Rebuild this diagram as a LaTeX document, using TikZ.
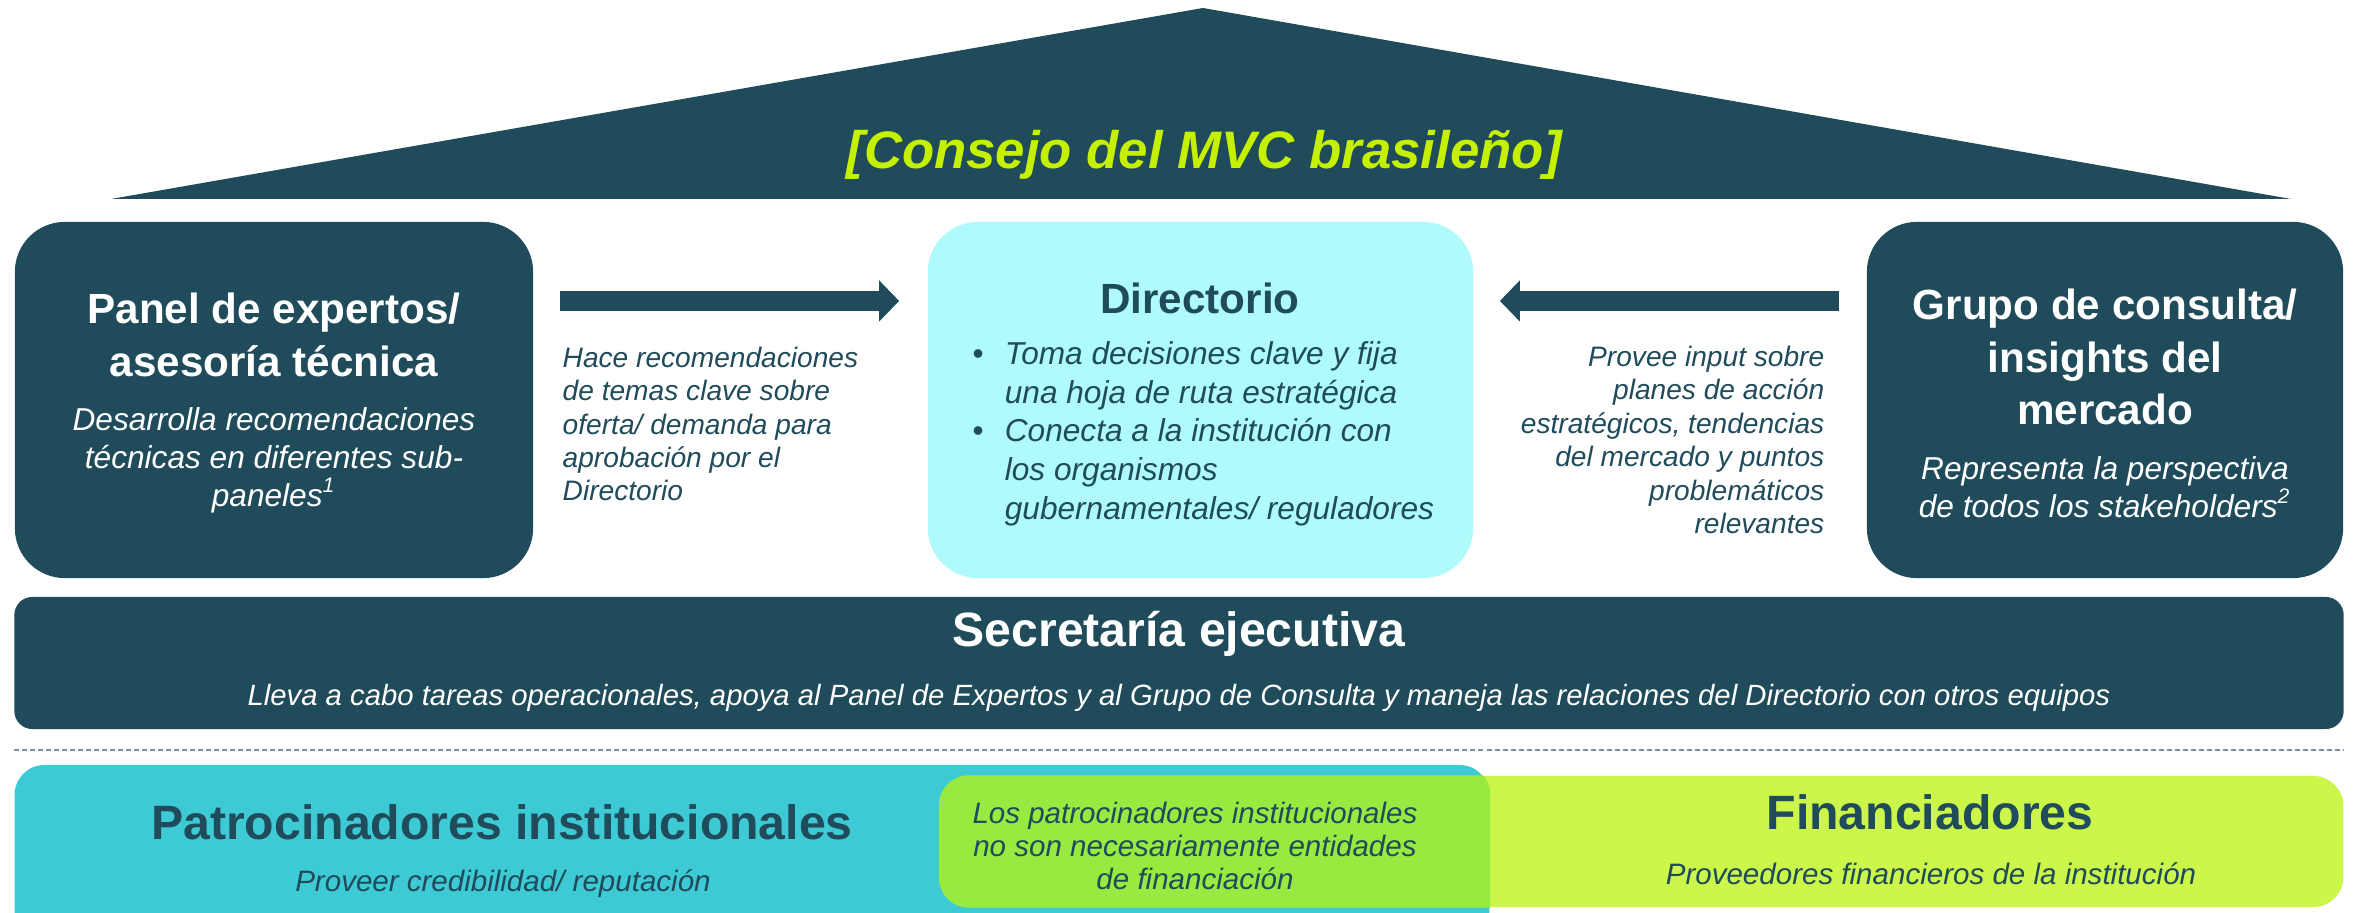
\documentclass[tikz,border=0pt]{standalone}
\usepackage{fontspec}
\setmainfont{Liberation Sans}
\usepackage{tikz}
\usetikzlibrary{arrows.meta}
\usepackage{xcolor}
\definecolor{mvcteal}{HTML}{1F4B5A}
\definecolor{mvcice}{HTML}{AFFAFB}
\definecolor{mvccyan}{HTML}{3DCAD4}
\definecolor{mvclime}{HTML}{CCF74A}
\definecolor{mvcgreen}{HTML}{98EA40}
\definecolor{mvctitle}{HTML}{C5F000}
\definecolor{mvcdots}{HTML}{7A929C}
\tikzset{%
	darkbox/.style={
		rounded corners=0.5cm,
		fill=mvcteal,
		minimum height=3.56cm
	},
	icebox/.style={
		rounded corners=0.5cm,
		fill=mvcice,
		minimum height=3.56cm
	},
	boxtitle/.style={
		font=\fontsize{12}{15}\selectfont\bfseries,
		align=center
	},
	boxnote/.style={
		font=\fontsize{9}{10.8}\selectfont\itshape,
		align=center
	},
	bandtitle/.style={
		font=\fontsize{13.7}{17}\selectfont\bfseries,
		align=center
	},
	bandnote/.style={
		font=\fontsize{8.4}{9.5}\selectfont\itshape,
		align=center
	},
	arrownote/.style={
		font=\fontsize{8}{9.5}\selectfont\itshape,
		text=mvcteal
	},
	fatarrow/.style={
		draw=mvcteal,
		line width=0.2cm,
		-{Triangle[width=0.4cm,length=0.2cm]}
	},
	sepline/.style={
		draw=mvcdots,
		line width=0.015cm,
		dash pattern=on 0.05cm off 0.03cm
	},
}
\begin{document}
\begin{tikzpicture}[
		x=0.01cm, y=-0.01cm,
		every node/.style={inner sep=0pt}
		]
	\clip (0,0) rectangle (2357,913);
	\fill[mvcteal] (111,199) -- (1203,8) -- (2291,199) -- cycle;
	\node[font=\fontsize{15}{18}\selectfont\bfseries\itshape, text=mvctitle] (council) at (1204,155) {[Consejo del MVC brasileño]};

	\node[darkbox, minimum width=5.18cm] (panel) at (274,400) {};
	\node[icebox, minimum width=5.45cm] (board) at (1200.5,400) {};
	\node[darkbox, minimum width=4.76cm] (grupo) at (2105,400) {};

	\node[boxtitle, text=white] (paneltitle) at (274,335) {Panel de expertos/\\asesoría técnica};
	\node[boxnote, text=white] (panelnote) at (274,460) {Desarrolla recomendaciones\\técnicas en diferentes sub-\\paneles\textsuperscript{1}};

	\node[boxtitle, text=mvcteal] (boardtitle) at (1200,298) {Directorio};
	\node[anchor=west, text=mvcteal, font=\fontsize{9}{11}\selectfont\itshape] (boardlist) at (972,434) {%
		\begin{tabular}{@{}l@{\hspace{0.21cm}}l@{}}
			\upshape\textbullet & Toma decisiones clave y fija\\
			& una hoja de ruta estratégica\\
			\upshape\textbullet & Conecta a la institución con\\
			& los organismos\\
			& gubernamentales/ reguladores
		\end{tabular}};

	\node[boxtitle, text=white] (grupotitle) at (2105,357) {Grupo de consulta/\\insights del\\mercado};
	\node[boxnote, text=white] (gruponote) at (2105,487) {Representa la perspectiva\\de todos los stakeholders\textsuperscript{2}};

	\draw[fatarrow, shorten <=0.26cm, shorten >=0.28cm] ([yshift=0.99cm]panel.east) -- ([yshift=0.99cm]board.west);
	\draw[fatarrow, shorten <=0.27cm, shorten >=0.26cm] ([yshift=0.99cm]grupo.west) -- ([yshift=0.99cm]board.east);

	\node[arrownote, anchor=west, align=left] (panelarrow) at (562,424) {Hace recomendaciones\\de temas clave sobre\\oferta/ demanda para\\aprobación por el\\Directorio};
	\node[arrownote, anchor=east, align=right] (grupoarrow) at (1825,440) {Provee input sobre\\planes de acción\\estratégicos, tendencias\\del mercado y puntos\\problemáticos\\relevantes};

	\node[rounded corners=0.18cm, fill=mvcteal, minimum width=23.28cm, minimum height=1.32cm] (secretaria) at (1179,663) {};
	\node[bandtitle, text=white] (secretariatitle) at (1179,634) {Secretaría ejecutiva};
	\node[font=\fontsize{8.33}{9.5}\selectfont\itshape, text=white] (secretarianote) at (1179,698) {Lleva a cabo tareas operacionales, apoya al Panel de Expertos y al Grupo de Consulta y maneja las relaciones del Directorio con otros equipos};

	\draw[sepline] ([yshift=-0.2cm]secretaria.south west) -- ([yshift=-0.2cm]secretaria.south east);

	\node[rounded corners=0.3cm, fill=mvccyan, minimum width=14.74cm, minimum height=1.95cm] (sponsors) at (752,862.5) {};
	\node[rounded corners=0.3cm, fill=mvclime, minimum width=14.03cm, minimum height=1.31cm] (funders) at (1641.5,841.5) {};
	\begin{scope}
		\clip[rounded corners=0.3cm] (sponsors.north west) rectangle (sponsors.south east);
		\fill[mvcgreen, rounded corners=0.3cm] (funders.north west) rectangle (funders.south east);
	\end{scope}

	\node[bandtitle, text=mvcteal] (sponsorstitle) at (502,822) {Patrocinadores institucionales};
	\node[bandnote, text=mvcteal] (sponsorsnote) at (503,884) {Proveer credibilidad/ reputación};
	\node[bandnote, text=mvcteal] (overlapnote) at (1195,846) {Los patrocinadores institucionales\\no son necesariamente entidades\\de financiación};
	\node[bandtitle, text=mvcteal] (funderstitle) at (1930,812) {Financiadores};
	\node[bandnote, text=mvcteal] (fundersnote) at (1931,874) {Proveedores financieros de la institución};
\end{tikzpicture}
\end{document}
